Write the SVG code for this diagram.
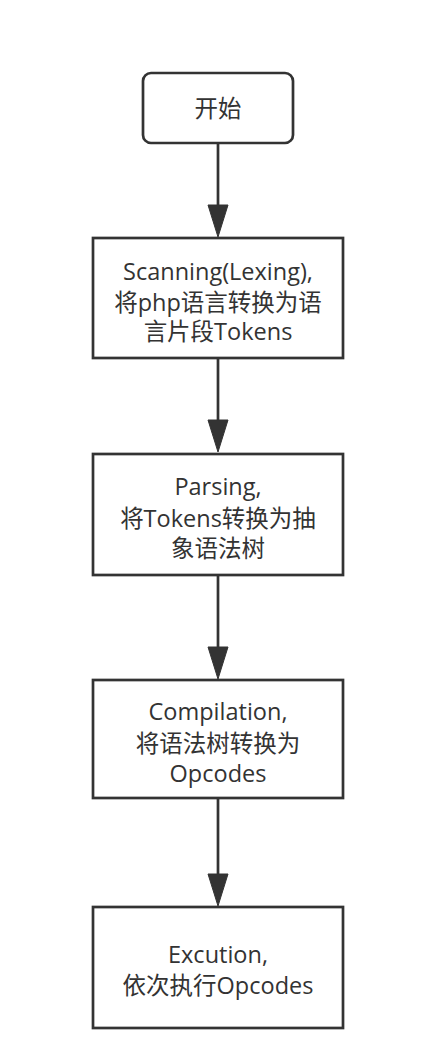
<svg xmlns="http://www.w3.org/2000/svg" width="428" height="1064" viewBox="0 0 428 1064">
<defs>
<style>
.box{fill:#ffffff;stroke:#333333;stroke-width:2.7}
.t{font-family:"Open Sans","Noto Sans CJK SC",sans-serif;font-size:23.5px;fill:#333333;text-anchor:middle;dominant-baseline:central}
.c{stroke:#333333;stroke-width:2.7;fill:none}
.ah{fill:#333333;stroke:#333333;stroke-width:1}
</style>
</defs>
<rect width="428" height="1064" fill="#ffffff"/>
<g id="connectors">
<line class="c" x1="218" y1="143" x2="218" y2="210"/>
<polygon class="ah" points="208,205 228,205 218,237"/>
<line class="c" x1="218" y1="358" x2="218" y2="425"/>
<polygon class="ah" points="208,420 228,420 218,452"/>
<line class="c" x1="218" y1="575" x2="218" y2="652"/>
<polygon class="ah" points="208,647 228,647 218,679"/>
<line class="c" x1="218" y1="798" x2="218" y2="879"/>
<polygon class="ah" points="208,874 228,874 218,906"/>
</g>
<g id="start">
<rect class="box" x="143" y="73" width="150" height="70" rx="8"/>
<text class="t" x="218" y="108">开始</text>
</g>
<g id="scanning">
<rect class="box" x="93" y="238" width="250" height="120"/>
<text class="t" x="218" y="271">Scanning(Lexing),</text>
<text class="t" x="218" y="302">将php语言转换为语</text>
<text class="t" x="218" y="331">言片段Tokens</text>
</g>
<g id="parsing">
<rect class="box" x="93" y="454" width="250" height="121"/>
<text class="t" x="218" y="486">Parsing,</text>
<text class="t" x="218" y="518">将Tokens转换为抽</text>
<text class="t" x="218" y="548">象语法树</text>
</g>
<g id="compilation">
<rect class="box" x="93" y="680" width="250" height="118"/>
<text class="t" x="218" y="711">Compilation,</text>
<text class="t" x="218" y="743">将语法树转换为</text>
<text class="t" x="218" y="773">Opcodes</text>
</g>
<g id="excution">
<rect class="box" x="93" y="907" width="250" height="121"/>
<text class="t" x="218" y="954">Excution,</text>
<text class="t" x="218" y="985">依次执行Opcodes</text>
</g>
</svg>
